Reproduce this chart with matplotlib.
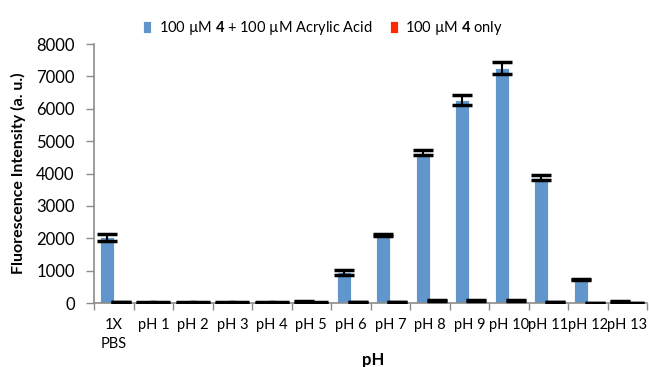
import matplotlib
matplotlib.use("Agg")
import matplotlib.pyplot as plt
import numpy as np

categories = ["1X\nPBS", "pH 1", "pH 2", "pH 3", "pH 4", "pH 5", "pH 6", "pH 7",
              "pH 8", "pH 9", "pH 10", "pH 11", "pH 12", "pH 13"]
acrylic = [2030, 20, 20, 20, 20, 50, 950, 2100, 4650, 6270, 7260, 3870, 740, 40]
acrylic_err = [110, 10, 10, 10, 10, 15, 80, 40, 80, 150, 190, 80, 20, 15]
only4 = [40, 20, 20, 15, 15, 15, 30, 40, 90, 90, 90, 40, 10, 10]
only4_err = [10, 5, 5, 5, 5, 5, 5, 10, 15, 15, 15, 10, 3, 3]
yticks = [0, 1000, 2000, 3000, 4000, 5000, 6000, 7000, 8000]

plt.rcParams['font.family'] = ['Lato', 'DejaVu Sans']
plt.rcParams['mathtext.fontset'] = 'custom'
plt.rcParams['mathtext.bf'] = 'Lato:bold'
plt.rcParams['mathtext.rm'] = 'Lato'

fig = plt.figure(figsize=(6.49, 3.67), dpi=100)
ax = fig.add_axes([0.145, 0.174, 0.852, 0.706])

x = np.arange(len(categories))
w = 0.36
blue = '#6096CB'
red = '#FF2800'
ax.bar(x - w / 2, acrylic, w, color=blue, edgecolor='white', linewidth=0.6,
       label=r'100 µM $\mathbf{4}$ + 100 µM Acrylic Acid', zorder=2)
ax.bar(x + w / 2, only4, w, color=red, edgecolor='white', linewidth=0.6,
       label=r'100 µM $\mathbf{4}$ only', zorder=2)
ax.errorbar(x - w / 2, acrylic, yerr=acrylic_err, fmt='none', ecolor='black',
            elinewidth=1.5, capsize=7.5, capthick=2.5, zorder=3)
ax.errorbar(x + w / 2, only4, yerr=only4_err, fmt='none', ecolor='black',
            elinewidth=1.5, capsize=7.5, capthick=2.5, zorder=3)

ax.set_xlim(-0.5, len(categories) - 0.5)
ax.set_ylim(0, 8000)
ax.set_yticks(yticks)
ax.set_yticklabels([str(v) for v in yticks], fontsize=12)
ax.set_xticks(x)
ax.set_xticklabels(categories, fontsize=10.5, linespacing=1.45)
ax.set_xticks(np.arange(len(categories) + 1) - 0.5, minor=True)
ax.tick_params(axis='x', which='major', length=0, pad=11)
ax.tick_params(axis='x', which='minor', length=5, color='#8c8c8c', width=1)
ax.tick_params(axis='y', length=6, color='#8c8c8c', width=1, pad=8)

for s in ['top', 'right']:
    ax.spines[s].set_visible(False)
for s in ['left', 'bottom']:
    ax.spines[s].set_color('#8c8c8c')
    ax.spines[s].set_linewidth(1.2)

ax.set_ylabel('Fluorescence Intensity (a. u.)', fontsize=11.5, fontweight='bold', labelpad=7)
ax.set_xlabel('pH', fontsize=12, fontweight='bold')
ax.xaxis.set_label_coords(0.505, -0.19)

ax.legend(loc='lower left', bbox_to_anchor=(0.088, 1.027), ncol=2, frameon=False,
          fontsize=10.5, handlelength=0.58, handleheight=0.93, columnspacing=1.2,
          handletextpad=0.5, borderaxespad=0, borderpad=0)

fig.savefig('out.png', dpi=100)
